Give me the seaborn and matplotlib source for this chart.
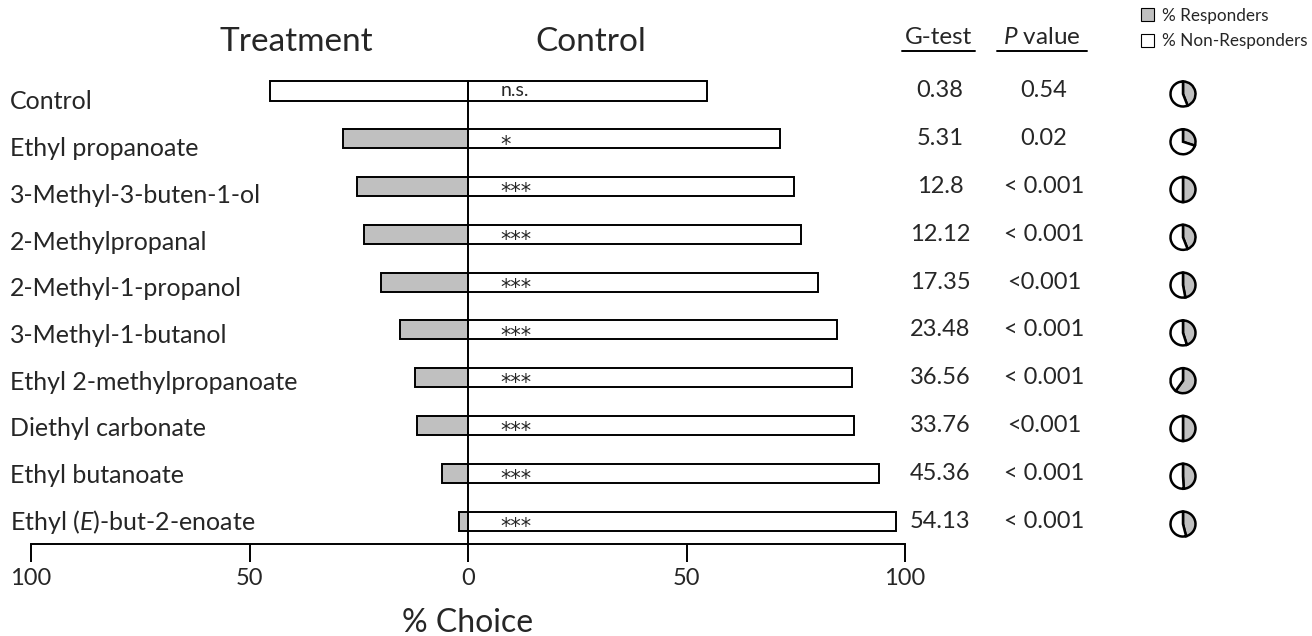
import matplotlib
matplotlib.use("Agg")
import matplotlib.pyplot as plt
import matplotlib.transforms as mtransforms
from matplotlib.lines import Line2D
from matplotlib.patches import Patch
import pandas as pd
import seaborn as sns

# data
compounds = ["Control", "Ethyl propanoate", "3-Methyl-3-buten-1-ol", "2-Methylpropanal",
             "2-Methyl-1-propanol", "3-Methyl-1-butanol", "Ethyl 2-methylpropanoate",
             "Diethyl carbonate", "Ethyl butanoate", "Ethyl ($\\it{E}$)-but-2-enoate"]
treatment = [45.2, 28.6, 25.4, 23.8, 19.9, 15.6, 12.2, 11.7, 6.0, 2.1]
control = [54.8, 71.4, 74.6, 76.2, 80.1, 84.4, 87.8, 88.3, 94.0, 97.9]
signif = ["n.s.", "*", "***", "***", "***", "***", "***", "***", "***", "***"]
g_test = ["0.38", "5.31", "12.8", "12.12", "17.35", "23.48", "36.56", "33.76", "45.36", "54.13"]
p_value = ["0.54", "0.02", "< 0.001", "< 0.001", "<0.001", "< 0.001", "< 0.001", "<0.001",
           "< 0.001", "< 0.001"]
responders = [44, 30, 50, 44, 47, 45, 60, 50, 49, 46]
tick_vals = [-100, -50, 0, 50, 100]
tick_labels = ["100", "50", "0", "50", "100"]

sns.set_theme(style="white")
plt.rcParams["font.family"] = ["Lato", "DejaVu Sans"]
plt.rcParams["mathtext.fontset"] = "custom"
plt.rcParams["mathtext.rm"] = "Lato"
plt.rcParams["mathtext.it"] = "Lato:italic"

df = pd.DataFrame({"compound": compounds,
                   "treatment": [-t for t in treatment],
                   "control": control})

W, H = 1312, 636
fig = plt.figure(figsize=(W / 100, H / 100), dpi=100)
ax = fig.add_axes([31 / W, 1 - 544 / H, (905 - 31) / W, (544 - 80) / H])

gray = "#c0c0c0"
treat_colors = ["white"] + [gray] * 9
sns.barplot(data=df, x="treatment", y="compound", hue="compound", palette=treat_colors,
            saturation=1, edgecolor="black", linewidth=1.4, width=0.4, legend=False,
            orient="h", ax=ax)
sns.barplot(data=df, x="control", y="compound", color="white", saturation=1,
            edgecolor="black", linewidth=1.4, width=0.4, orient="h", ax=ax)

ax.set_xlim(-100, 100)
ax.set_ylim(9.48, -0.23)
ax.axvline(0, color="black", lw=1.4)
for s in ["left", "right", "top"]:
    ax.spines[s].set_visible(False)
ax.spines["bottom"].set_color("black")
ax.spines["bottom"].set_linewidth(1.4)
ax.set_yticks([])
ax.set_ylabel("")
ax.set_xticks(tick_vals)
ax.set_xticklabels(tick_labels)
ax.tick_params(axis="x", direction="out", length=13, width=1.4, color="black",
               labelsize=17, pad=4, bottom=True)
ax.set_xlabel("% Choice", fontsize=23, labelpad=14)

for i, s in enumerate(signif):
    if s == "n.s.":
        ax.text(7.5, i, s, ha="left", va="center", fontsize=14)
    else:
        ax.text(7.3, i + 0.12, s, ha="left", va="center", fontsize=15,
                family="DejaVu Sans")

blend = mtransforms.blended_transform_factory(fig.transFigure, ax.transData)
for i, name in enumerate(compounds):
    ax.text(10 / W, i + 0.23 - 0.023 * i, name, transform=blend, ha="left", va="center",
            fontsize=18)
    ax.text(940 / W, i, g_test[i], transform=blend, ha="center", va="center", fontsize=17)
    ax.text(1044 / W, i, p_value[i], transform=blend, ha="center", va="center", fontsize=17)

fig.text(296 / W, 1 - 42 / H, "Treatment", ha="center", va="center", fontsize=24)
fig.text(591 / W, 1 - 42 / H, "Control", ha="center", va="center", fontsize=24)
fig.text(938 / W, 1 - 38 / H, "G-test", ha="center", va="center", fontsize=17.5)
fig.text(1042 / W, 1 - 38 / H, "$\\it{P}$ value", ha="center", va="center", fontsize=17.5)
for x0, x1 in [(902, 975), (997, 1087)]:
    fig.add_artist(Line2D([x0 / W, x1 / W], [1 - 51 / H, 1 - 51 / H], color="black", lw=1.4))

# pies of responders
r = 13.5
for i, frac in enumerate(responders):
    _, cy = ax.transData.transform((0, i))
    pax = fig.add_axes([(1183 - r) / W, (cy - 3 - r) / H, 2 * r / W, 2 * r / H])
    pax.pie([frac, 100 - frac], colors=[gray, "white"], startangle=90, counterclock=False,
            wedgeprops=dict(edgecolor="black", linewidth=1.8))
    pax.set_xlim(-1.08, 1.08)
    pax.set_ylim(-1.08, 1.08)
    pax.set_aspect("equal")

handles = [Patch(facecolor=gray, edgecolor="black", lw=0.8, label="% Responders"),
           Patch(facecolor="white", edgecolor="black", lw=0.8, label="% Non-Responders")]
fig.legend(handles=handles, loc="upper left", bbox_to_anchor=(1133 / W, 1.0), frameon=False,
           fontsize=12.3, handlelength=0.8, handleheight=0.8, handletextpad=0.45,
           labelspacing=0.55, borderaxespad=0.2, borderpad=0.25)

fig.savefig("out.png", dpi=100)
